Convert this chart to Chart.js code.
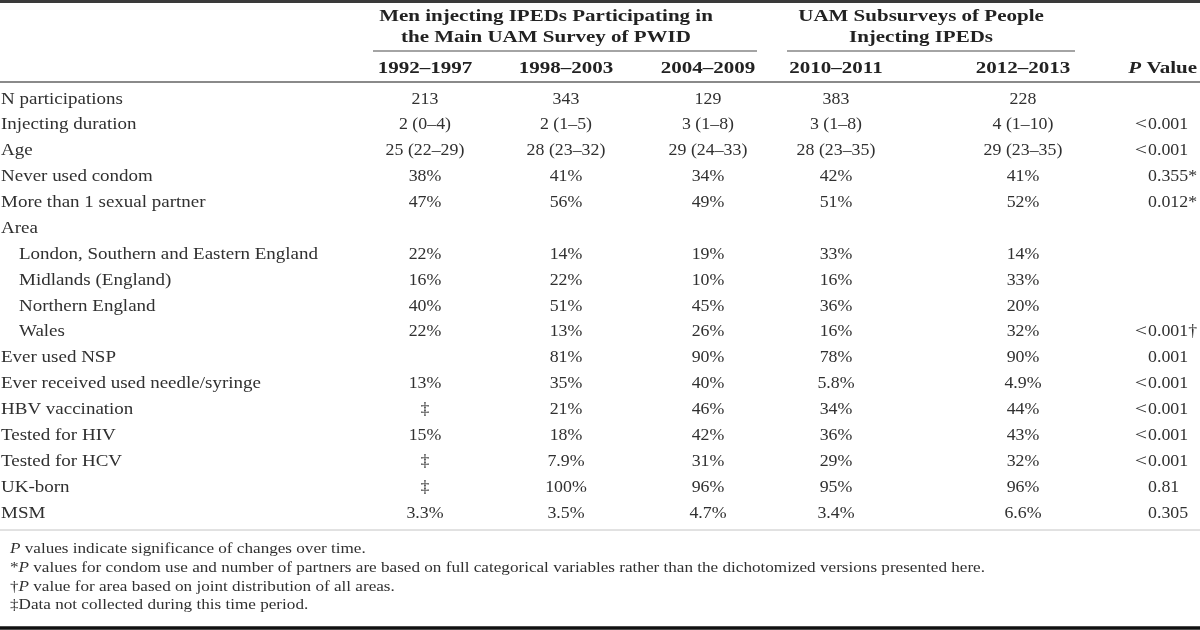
<!DOCTYPE html>
<html>
<head>
<meta charset="utf-8">
<script src="https://cdn.jsdelivr.net/npm/chart.js@4/dist/chart.umd.min.js"></script>
<style>
html,body{margin:0;padding:0;background:#fff;}
#wrap{width:1200px;height:630px;position:relative;}
</style>
</head>
<body>
<div id="wrap"><canvas id="c" width="1200" height="630"></canvas></div>
<script>
// ---- data ----
const rowLabels = ["N participations","Injecting duration","Age","Never used condom","More than 1 sexual partner","Area","London, Southern and Eastern England","Midlands (England)","Northern England","Wales","Ever used NSP","Ever received used needle/syringe","HBV vaccination","Tested for HIV","Tested for HCV","UK-born","MSM"];
const subRows = [6,7,8,9];
const groupHeaders = [["Men injecting IPEDs Participating in","the Main UAM Survey of PWID"],["UAM Subsurveys of People","Injecting IPEDs"]];
const periods = ["1992–1997","1998–2003","2004–2009","2010–2011","2012–2013"];
const p1992 = ["213","2 (0–4)","25 (22–29)","38%","47%","","22%","16%","40%","22%","","13%","‡","15%","‡","‡","3.3%"];
const p1998 = ["343","2 (1–5)","28 (23–32)","41%","56%","","14%","22%","51%","13%","81%","35%","21%","18%","7.9%","100%","3.5%"];
const p2004 = ["129","3 (1–8)","29 (24–33)","34%","49%","","19%","10%","45%","26%","90%","40%","46%","42%","31%","96%","4.7%"];
const p2010 = ["383","3 (1–8)","28 (23–35)","42%","51%","","33%","16%","36%","16%","78%","5.8%","34%","36%","29%","95%","3.4%"];
const p2012 = ["228","4 (1–10)","29 (23–35)","41%","52%","","14%","33%","20%","32%","90%","4.9%","44%","43%","32%","96%","6.6%"];
const pValues = ["","<0.001","<0.001","0.355*","0.012*","","","","","<0.001†","0.001","<0.001","<0.001","<0.001","<0.001","0.81","0.305"];
const footnotes = [
  [["P",true],[" values indicate significance of changes over time.",false]],
  [["*",false],["P",true],[" values for condom use and number of partners are based on full categorical variables rather than the dichotomized versions presented here.",false]],
  [["†",false],["P",true],[" value for area based on joint distribution of all areas.",false]],
  [["‡Data not collected during this time period.",false]]
];

// ---- layout ----
const periodValues = [p1992,p1998,p2004,p2010,p2012];
const colCenters = [425,566,708,836,1023];
const pColX = 1148;
const stubX = 1, indentX = 19;
const firstRowY = 99, rowStep = 25.87;
const FONT = "'Liberation Serif','Times New Roman',serif";
const BODY = 17.5;
const TEXT = '#303030';
const STUB_SX = 1.085, HEAD_SX = 1.2;

const datasets = [];
datasets.push({label:'stub', kind:'stub', texts: rowLabels,
  data: rowLabels.map((t,i)=>({x: subRows.includes(i)?indentX:stubX, y:i}))});
periodValues.forEach((arr,c)=>{
  datasets.push({label:periods[c], kind:'center', texts: arr,
    data: arr.map((t,i)=>({x: colCenters[c], y:i}))});
});
datasets.push({label:'P', kind:'p', texts: pValues,
  data: pValues.map((t,i)=>({x: pColX, y:i}))});
datasets.forEach(d=>{d.pointRadius=0;d.pointHoverRadius=0;d.showLine=false;});

function yPx(chart, v){ return chart.scales.y.getPixelForValue(v); }
function rowFromPx(px){ return (px-firstRowY)/rowStep; }

function hline(ctx,x1,x2,y,w,color){
  ctx.save();ctx.strokeStyle=color;ctx.lineWidth=w;ctx.beginPath();ctx.moveTo(x1,y);ctx.lineTo(x2,y);ctx.stroke();ctx.restore();
}
// draw text with horizontal stretch sx; align relative to anchor x
function sText(ctx,t,x,y,align,sx){
  ctx.save();
  ctx.translate(x,y);
  ctx.scale(sx,1);
  ctx.textAlign=align;
  ctx.fillText(t,0,0);
  ctx.restore();
}

const tablePlugin = {
  id:'tablePlugin',
  afterDatasetsDraw(chart){
    const ctx = chart.ctx;
    const xs = chart.scales.x;
    ctx.save();
    ctx.textBaseline='middle';
    ctx.fillStyle=TEXT;
    // rules
    hline(ctx,0,1200,1.5,3,'#3a3a3a');
    hline(ctx,xs.getPixelForValue(373),xs.getPixelForValue(757),yPx(chart,rowFromPx(51)),1.2,'#4a4a4a');
    hline(ctx,xs.getPixelForValue(787),xs.getPixelForValue(1075),yPx(chart,rowFromPx(51)),1.2,'#4a4a4a');
    hline(ctx,0,1200,yPx(chart,rowFromPx(82)),2,'#8a8a8a');
    hline(ctx,0,1200,yPx(chart,rowFromPx(530)),1,'#c4c4c4');
    hline(ctx,0,1200,628,3.5,'#111');
    // group headers
    ctx.fillStyle='#222';
    ctx.font='bold '+BODY+'px '+FONT;
    const gCenters=[546,921];
    groupHeaders.forEach((g,k)=>{
      sText(ctx,g[0], xs.getPixelForValue(gCenters[k]), yPx(chart,rowFromPx(16)),'center',HEAD_SX);
      sText(ctx,g[1], xs.getPixelForValue(gCenters[k]), yPx(chart,rowFromPx(37)),'center',HEAD_SX);
    });
    // period headers
    periods.forEach((p,c)=>{
      sText(ctx,p, xs.getPixelForValue(colCenters[c]), yPx(chart,rowFromPx(68)),'center',HEAD_SX);
    });
    // P Value header
    const yh = yPx(chart,rowFromPx(68));
    ctx.font='bold '+BODY+'px '+FONT;
    const wV = ctx.measureText(' Value').width*HEAD_SX;
    ctx.font='bold italic '+BODY+'px '+FONT;
    const wP = ctx.measureText('P').width*HEAD_SX;
    const xEnd = 1197;
    sText(ctx,'P', xEnd-wV-wP, yh,'left',HEAD_SX);
    ctx.font='bold '+BODY+'px '+FONT;
    sText(ctx,' Value', xEnd-wV, yh,'left',HEAD_SX);

    // cells
    ctx.fillStyle=TEXT;
    ctx.font=BODY+'px '+FONT;
    chart.data.datasets.forEach((ds,di)=>{
      const meta = chart.getDatasetMeta(di);
      meta.data.forEach((pt,i)=>{
        const t = ds.texts[i];
        if(!t) return;
        if(ds.kind==='stub'){sText(ctx,t,pt.x,pt.y,'left',STUB_SX);}
        else if(ds.kind==='center'){sText(ctx,t,pt.x,pt.y,'center',1.02);}
        else {
          let s=t;
          if(s.startsWith('<')){sText(ctx,'<',pt.x-1,pt.y,'right',1.25);s=s.slice(1);}
          sText(ctx,s,pt.x,pt.y,'left',1.02);
        }
      });
    });

    // footnotes
    const fs=14.5;
    const fy=[549,568,587,605];
    let w2=0; footnotes[1].forEach(([s,it])=>{ctx.font=(it?'italic ':'')+fs+'px '+FONT; w2+=ctx.measureText(s).width;});
    const fx0 = 10;
    const sx = (985-fx0)/w2;
    footnotes.forEach((parts,k)=>{
      ctx.save();
      ctx.translate(fx0, yPx(chart,rowFromPx(fy[k])));
      ctx.scale(sx,1);
      let x=0;
      ctx.textAlign='left';
      parts.forEach(([s,it])=>{
        ctx.font=(it?'italic ':'')+fs+'px '+FONT;
        ctx.fillText(s,x,0);
        x+=ctx.measureText(s).width;
      });
      ctx.restore();
    });
    ctx.restore();
  }
};

const yMin = -firstRowY/rowStep;
new Chart(document.getElementById('c'),{
  type:'scatter',
  data:{datasets},
  options:{
    responsive:false,animation:false,
    layout:{padding:0},
    plugins:{legend:{display:false},tooltip:{enabled:false}},
    scales:{
      x:{type:'linear',min:0,max:1200,display:false},
      y:{type:'linear',reverse:true,min:yMin,max:yMin+630/rowStep,display:false}
    }
  },
  plugins:[tablePlugin]
});
</script>
</body>
</html>
